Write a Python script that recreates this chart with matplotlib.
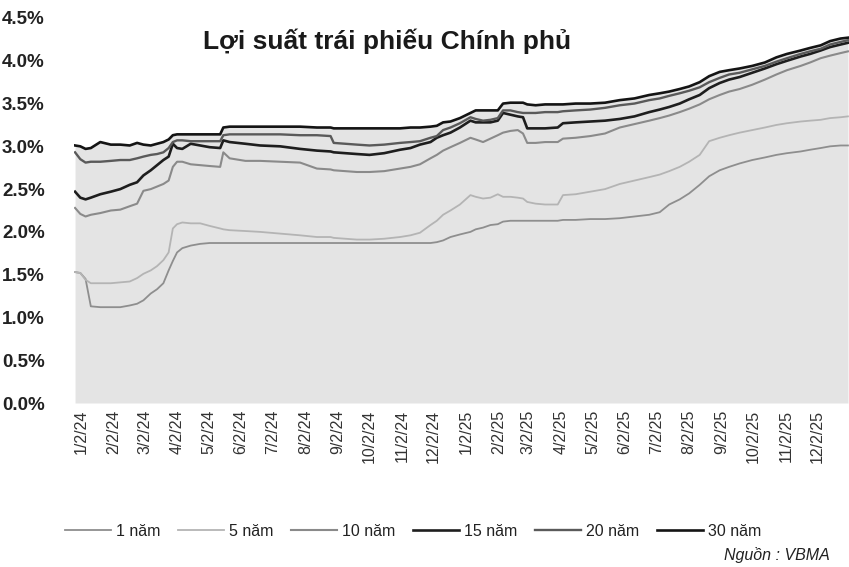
import matplotlib
matplotlib.use("Agg")
import matplotlib.pyplot as plt
import pandas as pd
from datetime import datetime

plt.rcParams['font.family'] = ['Liberation Sans', 'DejaVu Sans']

dates = ["2023-12-27", "2024-01-01", "2024-01-06", "2024-01-11", "2024-01-20", "2024-01-30",
         "2024-02-08", "2024-02-17", "2024-02-24", "2024-03-01", "2024-03-08", "2024-03-14",
         "2024-03-20", "2024-03-25", "2024-03-29", "2024-04-02", "2024-04-07", "2024-04-15",
         "2024-04-24", "2024-05-03", "2024-05-13", "2024-05-16", "2024-05-22", "2024-06-06",
         "2024-06-20", "2024-07-09", "2024-07-28", "2024-08-13", "2024-08-26", "2024-08-29",
         "2024-09-09", "2024-09-20", "2024-10-02", "2024-10-16", "2024-10-31", "2024-11-10",
         "2024-11-19", "2024-11-29", "2024-12-05", "2024-12-11", "2024-12-18", "2024-12-27",
         "2025-01-06", "2025-01-11", "2025-01-18", "2025-01-25", "2025-02-01", "2025-02-06",
         "2025-02-13", "2025-02-20", "2025-02-25", "2025-03-01", "2025-03-09", "2025-03-18",
         "2025-03-30", "2025-04-04", "2025-04-16", "2025-04-30", "2025-05-14", "2025-05-28",
         "2025-06-11", "2025-06-25", "2025-07-05", "2025-07-14", "2025-07-24", "2025-08-02",
         "2025-08-12", "2025-08-21", "2025-08-31", "2025-09-09", "2025-09-19", "2025-10-01",
         "2025-10-13", "2025-10-24", "2025-11-03", "2025-11-16", "2025-11-25", "2025-12-05",
         "2025-12-14", "2025-12-24", "2025-12-31"]

y30 = [3.01, 3.00, 2.97, 2.98, 3.05, 3.02, 3.02, 3.01, 3.04, 3.02, 3.01, 3.03,
       3.05, 3.08, 3.13, 3.14, 3.14, 3.14, 3.14, 3.14, 3.14, 3.22, 3.23, 3.23,
       3.23, 3.23, 3.23, 3.22, 3.22, 3.21, 3.21, 3.21, 3.21, 3.21, 3.21, 3.22,
       3.22, 3.23, 3.24, 3.28, 3.29, 3.33, 3.39, 3.42, 3.42, 3.42, 3.42, 3.50,
       3.51, 3.51, 3.51, 3.49, 3.48, 3.49, 3.49, 3.49, 3.50, 3.50, 3.51, 3.54,
       3.56, 3.60, 3.62, 3.64, 3.67, 3.70, 3.75, 3.82, 3.87, 3.89, 3.91, 3.94,
       3.98, 4.04, 4.08, 4.12, 4.15, 4.18, 4.23, 4.26, 4.27]

y20 = [2.93, 2.85, 2.81, 2.82, 2.82, 2.83, 2.84, 2.84, 2.86, 2.88, 2.90, 2.91,
       2.93, 2.98, 3.05, 3.07, 3.07, 3.06, 3.06, 3.06, 3.06, 3.13, 3.14, 3.14,
       3.14, 3.14, 3.13, 3.13, 3.12, 3.04, 3.03, 3.02, 3.01, 3.02, 3.04, 3.05,
       3.06, 3.10, 3.12, 3.19, 3.22, 3.27, 3.34, 3.32, 3.30, 3.31, 3.33, 3.42,
       3.42, 3.40, 3.39, 3.39, 3.39, 3.40, 3.40, 3.41, 3.42, 3.43, 3.45, 3.48,
       3.50, 3.54, 3.56, 3.59, 3.62, 3.65, 3.69, 3.75, 3.80, 3.84, 3.86, 3.90,
       3.94, 3.99, 4.03, 4.08, 4.11, 4.14, 4.19, 4.22, 4.24]

y15 = [2.47, 2.40, 2.38, 2.40, 2.44, 2.47, 2.50, 2.55, 2.58, 2.66, 2.72, 2.78,
       2.84, 2.88, 3.03, 2.98, 2.97, 3.03, 3.01, 2.99, 2.98, 3.07, 3.05, 3.03,
       3.01, 3.00, 2.97, 2.95, 2.94, 2.93, 2.92, 2.91, 2.90, 2.92, 2.96, 2.98,
       3.02, 3.05, 3.10, 3.13, 3.16, 3.22, 3.30, 3.28, 3.28, 3.28, 3.30, 3.39,
       3.37, 3.35, 3.34, 3.21, 3.21, 3.21, 3.22, 3.27, 3.28, 3.29, 3.30, 3.32,
       3.35, 3.40, 3.43, 3.46, 3.50, 3.55, 3.60, 3.68, 3.74, 3.78, 3.81, 3.86,
       3.91, 3.96, 4.00, 4.05, 4.08, 4.12, 4.16, 4.19, 4.21]

y10 = [2.28, 2.21, 2.18, 2.20, 2.22, 2.25, 2.26, 2.30, 2.33, 2.48, 2.50, 2.53,
       2.56, 2.60, 2.76, 2.82, 2.82, 2.79, 2.78, 2.77, 2.76, 2.93, 2.86, 2.83,
       2.83, 2.82, 2.81, 2.74, 2.73, 2.72, 2.71, 2.70, 2.70, 2.71, 2.74, 2.76,
       2.79, 2.86, 2.90, 2.95, 2.99, 3.04, 3.10, 3.08, 3.05, 3.09, 3.13, 3.16,
       3.18, 3.19, 3.15, 3.04, 3.04, 3.05, 3.05, 3.09, 3.10, 3.12, 3.15, 3.22,
       3.26, 3.30, 3.33, 3.36, 3.40, 3.44, 3.49, 3.55, 3.60, 3.64, 3.67, 3.72,
       3.78, 3.84, 3.89, 3.94, 3.98, 4.03, 4.06, 4.09, 4.11]

y5 = [1.53, 1.52, 1.44, 1.40, 1.40, 1.40, 1.41, 1.42, 1.46, 1.51, 1.55, 1.60,
      1.67, 1.76, 2.04, 2.09, 2.11, 2.10, 2.10, 2.07, 2.04, 2.03, 2.02, 2.01,
      2.00, 1.98, 1.96, 1.94, 1.94, 1.93, 1.92, 1.91, 1.91, 1.92, 1.94, 1.96,
      1.99, 2.08, 2.13, 2.20, 2.25, 2.32, 2.43, 2.41, 2.39, 2.40, 2.44, 2.41,
      2.41, 2.40, 2.39, 2.35, 2.33, 2.32, 2.32, 2.43, 2.44, 2.47, 2.50, 2.56,
      2.60, 2.64, 2.67, 2.71, 2.76, 2.82, 2.90, 3.06, 3.10, 3.13, 3.16, 3.19,
      3.22, 3.25, 3.27, 3.29, 3.30, 3.31, 3.33, 3.34, 3.35]

y1 = [1.53, 1.52, 1.45, 1.13, 1.12, 1.12, 1.12, 1.14, 1.16, 1.20, 1.28, 1.33,
      1.40, 1.55, 1.66, 1.76, 1.81, 1.84, 1.86, 1.87, 1.87, 1.87, 1.87, 1.87,
      1.87, 1.87, 1.87, 1.87, 1.87, 1.87, 1.87, 1.87, 1.87, 1.87, 1.87, 1.87,
      1.87, 1.87, 1.88, 1.90, 1.94, 1.97, 2.00, 2.03, 2.05, 2.08, 2.09, 2.12,
      2.13, 2.13, 2.13, 2.13, 2.13, 2.13, 2.13, 2.14, 2.14, 2.15, 2.15, 2.16,
      2.18, 2.20, 2.23, 2.32, 2.38, 2.45, 2.55, 2.65, 2.72, 2.76, 2.80, 2.84,
      2.87, 2.90, 2.92, 2.94, 2.96, 2.98, 3.00, 3.01, 3.01]

series_names = ["1 năm", "5 năm", "10 năm", "15 năm", "20 năm", "30 năm"]
tick_labels = ["1/2/24", "2/2/24", "3/2/24", "4/2/24", "5/2/24", "6/2/24", "7/2/24",
               "8/2/24", "9/2/24", "10/2/24", "11/2/24", "12/2/24",
               "1/2/25", "2/2/25", "3/2/25", "4/2/25", "5/2/25", "6/2/25", "7/2/25",
               "8/2/25", "9/2/25", "10/2/25", "11/2/25", "12/2/25"]
y_ticks = [0.0, 0.5, 1.0, 1.5, 2.0, 2.5, 3.0, 3.5, 4.0, 4.5]

x = pd.to_datetime(dates)
tick_dates = [datetime.strptime(t, "%m/%d/%y") for t in tick_labels]

fig = plt.figure(figsize=(8.49, 5.67), dpi=100)
W, H = 849, 567
ax = fig.add_axes([74 / W, (H - 403) / H, (849 - 74) / W, (403 - 18) / H])

ax.fill_between(x, 0, y30, color="#e4e4e4", linewidth=0, zorder=1)

styles = [
    (y1, "#8e8e8e", 1.3),
    (y5, "#b4b4b4", 1.3),
    (y10, "#8a8a8a", 1.5),
    (y15, "#1e1e1e", 1.9),
    (y20, "#5a5a5a", 1.7),
    (y30, "#141414", 1.9),
]
for (vals, col, lw), name in zip(styles, series_names):
    ax.plot(x, vals, color=col, lw=lw, label=name, zorder=3)

ax.set_xlim(pd.Timestamp("2023-12-26"), pd.Timestamp("2026-01-01"))
ax.set_ylim(0, 4.5)
ax.set_yticks(y_ticks)
ax.set_yticklabels([f"{v:.1f}%" for v in y_ticks], fontsize=13.5, fontweight="bold", color="#222222")
ax.set_xticks(tick_dates)
ax.set_xticklabels(tick_labels, rotation=90, fontsize=11.5, color="#333333")
ax.tick_params(axis="y", length=0, pad=21)
ax.tick_params(axis="x", length=0, pad=5)
for s in ax.spines.values():
    s.set_visible(False)

fig.text(387 / W, 1 - 41 / H, "Lợi suất trái phiếu Chính phủ", ha="center", va="center",
         fontsize=19, fontweight="bold", color="#1a1a1a")

leg = fig.legend(loc="center", bbox_to_anchor=(413 / W, 1 - 531 / H), ncol=6, frameon=False,
                 fontsize=11.5, handlelength=2.9, handletextpad=0.3, columnspacing=1.1)
for t in leg.get_texts():
    t.set_color("#222222")

fig.text(830 / W, 1 - 555 / H, "Nguồn : VBMA", ha="right", va="center", fontsize=11.5,
         style="italic", color="#222222")

fig.savefig("out.png", dpi=100)
